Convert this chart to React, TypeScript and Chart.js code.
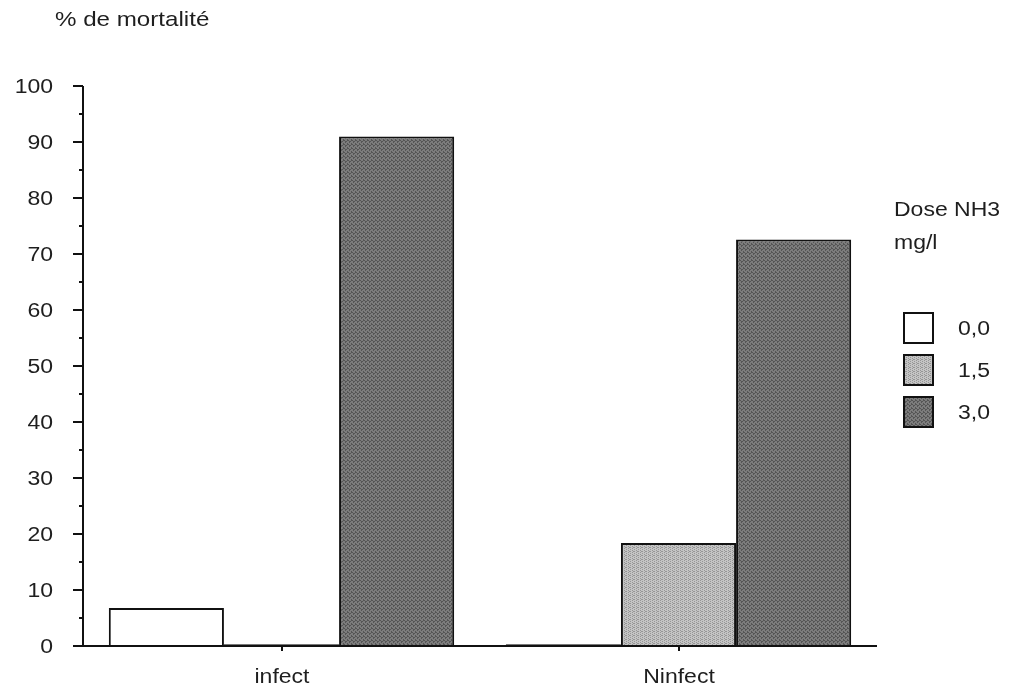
import React, { useEffect, useRef } from "react";
import { Chart, registerables } from "chart.js";

Chart.register(...registerables);

const categories = ["infect", "Ninfect"];
const doseLabels = ["0,0", "1,5", "3,0"];
const dose00 = [6.8, 0.3];
const dose15 = [0.3, 18.4];
const dose30 = [91, 72.6];
const yTickValues = [0, 10, 20, 30, 40, 50, 60, 70, 80, 90, 100];
const yAxisTitle = "% de mortalité";
const legendTitle = ["Dose NH3", "mg/l"];

const FONT = "'Liberation Sans', Arial, Helvetica, sans-serif";
const TEXT = "#1e1e1e";
const STRETCH = 1.15;

function makePattern(base: string, dot: string, size: number, cells: number[][]) {
  const c = document.createElement("canvas");
  c.width = size;
  c.height = size;
  const g = c.getContext("2d")!;
  g.fillStyle = base;
  g.fillRect(0, 0, size, size);
  g.fillStyle = dot;
  cells.forEach(([x, y]) => g.fillRect(x, y, 1, 1));
  const ctx = document.createElement("canvas").getContext("2d")!;
  return ctx.createPattern(c, "repeat") as CanvasPattern;
}

function drawText(ctx: CanvasRenderingContext2D, text: string, x: number, y: number, align: "left" | "right" | "center", size: number) {
  ctx.save();
  ctx.font = `${size}px ${FONT}`;
  ctx.fillStyle = TEXT;
  ctx.textBaseline = "middle";
  ctx.textAlign = align;
  ctx.translate(x, y);
  ctx.scale(STRETCH, 1);
  ctx.fillText(text, 0, 0);
  ctx.restore();
}

export default function App() {
  const ref = useRef<HTMLCanvasElement>(null);
  useEffect(() => {
    const light = makePattern("#c4c4c4", "#969696", 4, [[0, 0], [2, 1], [0, 2], [2, 3], [1, 3]]);
    const dark = makePattern("#7c7c7c", "#555555", 4, [[0, 0], [2, 1], [1, 2], [3, 3], [3, 0], [1, 1]]);
    const fills: (string | CanvasPattern)[] = ["#ffffff", light, dark];

    const axisPlugin = {
      id: "customAxis",
      afterDraw(chart: any) {
        const { ctx, chartArea, scales } = chart;
        const y = scales.y;
        const x = scales.x;
        ctx.save();
        ctx.strokeStyle = "#111";
        ctx.lineWidth = 2;
        ctx.beginPath();
        ctx.moveTo(chartArea.left, y.getPixelForValue(100));
        ctx.lineTo(chartArea.left, y.getPixelForValue(0));
        ctx.stroke();
        for (let v = 0; v <= 100; v += 5) {
          const py = Math.round(y.getPixelForValue(v));
          const len = v % 10 === 0 ? 10 : 4;
          ctx.beginPath();
          ctx.moveTo(chartArea.left - len, py);
          ctx.lineTo(chartArea.left, py);
          ctx.stroke();
        }
        const py0 = y.getPixelForValue(0);
        ctx.beginPath();
        ctx.moveTo(chartArea.left - 10, py0);
        ctx.lineTo(chartArea.right, py0);
        ctx.stroke();
        categories.forEach((label, i) => {
          const px = Math.round(x.getPixelForValue(i));
          ctx.beginPath();
          ctx.moveTo(px, py0);
          ctx.lineTo(px, py0 + 5);
          ctx.stroke();
          drawText(ctx, label, px, 677, "center", 20);
        });
        yTickValues.forEach((v) => {
          drawText(ctx, String(v), 53, y.getPixelForValue(v) + 1, "right", 20);
        });
        drawText(ctx, yAxisTitle, 55, 20, "left", 21);
        drawText(ctx, legendTitle[0], 894, 210, "left", 20);
        drawText(ctx, legendTitle[1], 894, 243, "left", 20);
        chart.data.datasets.forEach((ds: any, i: number) => {
          const cy = 328 + i * 42;
          ctx.fillStyle = ds.backgroundColor;
          ctx.fillRect(904, cy - 15, 29, 30);
          ctx.strokeStyle = "#111";
          ctx.lineWidth = 2;
          ctx.strokeRect(904, cy - 15, 29, 30);
          drawText(ctx, ds.label, 958, cy + 1, "left", 20);
        });
        ctx.restore();
      },
    };

    const chart = new Chart(ref.current!, {
      type: "bar",
      data: {
        labels: categories,
        datasets: [dose00, dose15, dose30].map((d, i) => ({
          label: doseLabels[i],
          data: d,
          backgroundColor: fills[i] as any,
          borderColor: "#111",
          borderWidth: 2,
          borderSkipped: "bottom",
          categoryPercentage: 0.87,
          barPercentage: 1,
        })),
      },
      options: {
        animation: false,
        responsive: false,
        maintainAspectRatio: false,
        layout: { padding: { left: 0, right: 134, top: 86, bottom: 0 } },
        plugins: { legend: { display: false }, tooltip: { enabled: false } },
        scales: {
          x: {
            grid: { display: false, drawTicks: false },
            border: { display: false },
            ticks: { display: false },
            afterFit: (s: any) => { s.height = 47; },
          },
          y: {
            min: 0,
            max: 100,
            afterBuildTicks: (s: any) => { s.ticks = yTickValues.map((v) => ({ value: v })); },
            grid: { display: false, drawTicks: false },
            border: { display: false },
            ticks: { display: false },
            afterFit: (s: any) => { s.width = 83; },
          },
        },
      },
      plugins: [axisPlugin],
    });
    return () => chart.destroy();
  }, []);
  return (
    <div style={{ position: "absolute", left: 0, top: 0, width: 1011, height: 693, background: "#fff" }}>
      <canvas ref={ref} width={1011} height={693} style={{ width: 1011, height: 693 }} />
    </div>
  );
}
